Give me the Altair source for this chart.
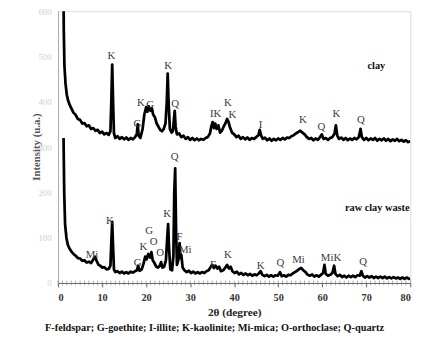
import altair as alt
import pandas as pd

# ---- clay pattern (2theta, intensity) ----
clay_2theta = [1.2, 1.3, 1.45, 1.7, 2.0, 2.3, 2.7, 3.0, 3.5, 4.0, 4.5, 5.0, 5.5, 6.0, 6.5, 7.0, 7.5, 8.0, 8.5, 9.0,
               9.5, 10.0, 10.5, 11.0, 11.5, 11.9, 12.1, 12.3, 12.5, 12.7, 13.0, 13.5, 14.0, 14.5, 15.0, 15.5, 16.0,
               16.5, 17.0, 17.5, 17.9, 18.1, 18.3, 18.7, 19.2, 19.6, 20.0, 20.3, 20.6, 21.0, 21.3, 21.6, 22.0, 22.4,
               22.8, 23.2, 23.6, 24.0, 24.4, 24.7, 24.9, 25.1, 25.4, 25.8, 26.1, 26.3, 26.5, 26.7, 27.0, 27.5, 28.0,
               28.5, 29.0, 29.5, 30.0, 30.5, 31.0, 31.5, 32.0, 32.5, 33.0, 33.5, 34.0, 34.5, 34.8, 35.1, 35.4, 35.7,
               36.0, 36.4, 36.8, 37.2, 37.6, 38.0, 38.4, 38.7, 39.0, 39.5, 40.0, 40.5, 41.0, 41.5, 42.0, 42.5, 43.0,
               43.5, 44.0, 44.5, 45.0, 45.5, 45.8, 46.1, 46.5, 47.0, 47.5, 48.0, 48.5, 49.0, 49.5, 50.0, 50.5, 51.0,
               51.5, 52.0, 52.5, 53.0, 53.5, 54.0, 54.5, 55.0, 55.5, 56.0, 56.5, 57.0, 57.5, 58.0, 58.5, 59.0, 59.5,
               59.9, 60.3, 60.8, 61.3, 61.8, 62.3, 62.8, 63.1, 63.4, 63.8, 64.3, 64.8, 65.3, 65.8, 66.3, 66.8, 67.3,
               67.8, 68.3, 68.7, 69.0, 69.5, 70.0, 70.5, 71.0, 71.5, 72.0, 72.5, 73.0, 73.5, 74.0, 74.5, 75.0, 75.5,
               76.0, 76.5, 77.0, 77.5, 78.0, 78.5, 79.0, 79.5, 80.0]
clay_intensity = [700, 560, 480, 440, 415, 402, 392, 386, 376, 371, 362, 360, 352, 353, 346, 348, 340, 342, 336, 338,
                  331, 334, 328, 331, 327, 335, 400, 482, 400, 330, 320, 324, 318, 322, 317, 321, 316,
                  320, 317, 322, 330, 350, 325, 320, 340, 372, 388, 378, 390, 380, 386, 372, 366, 352,
                  345, 338, 335, 340, 352, 400, 462, 400, 340, 332, 336, 360, 380, 345, 328, 330, 322,
                  325, 318, 322, 316, 320, 315, 319, 315, 318, 316, 320, 322, 330, 345, 355, 342, 352,
                  340, 348, 332, 336, 345, 352, 362, 356, 345, 332, 328, 322, 325, 318, 322, 317, 321,
                  316, 320, 318, 322, 326, 338, 326, 318, 321, 315, 319, 314, 318, 315, 319, 316, 320,
                  317, 321, 320, 324, 326, 330, 333, 336, 332, 328, 322, 318, 320, 315, 319, 316, 322,
                  328, 318, 320, 316, 320, 322, 330, 348, 326, 318, 321, 316, 320, 315, 319, 316, 320,
                  317, 322, 340, 322, 316, 320, 315, 319, 316, 320, 314, 318, 315, 319, 314, 318, 313,
                  317, 314, 318, 313, 316, 312, 315, 311, 313]

# ---- raw clay waste pattern ----
raw_2theta = [1.25, 1.4, 1.6, 1.9, 2.2, 2.6, 3.0, 3.5, 4.0, 4.5, 5.0, 5.5, 6.0, 6.5, 7.0, 7.5, 8.0, 8.4, 8.8, 9.2,
              9.6, 10.0, 10.5, 11.0, 11.5, 11.9, 12.1, 12.3, 12.5, 12.7, 13.0, 13.5, 14.0, 14.5, 15.0, 15.5, 16.0,
              16.5, 17.0, 17.5, 17.9, 18.2, 18.5, 19.0, 19.4, 19.8, 20.1, 20.5, 20.9, 21.2, 21.5, 21.9, 22.3, 22.7,
              23.1, 23.4, 23.7, 24.1, 24.5, 24.8, 25.0, 25.2, 25.5, 25.9, 26.2, 26.4, 26.6, 26.8, 27.0, 27.3, 27.6,
              27.8, 28.0, 28.3, 28.7, 29.2, 29.7, 30.2, 30.7, 31.2, 31.7, 32.2, 32.7, 33.2, 33.7, 34.2, 34.6, 35.0,
              35.4, 35.8, 36.2, 36.6, 37.0, 37.5, 38.0, 38.4, 38.8, 39.2, 39.6, 40.1, 40.6, 41.1, 41.6, 42.1, 42.6,
              43.1, 43.6, 44.1, 44.6, 45.1, 45.6, 46.0, 46.4, 46.9, 47.4, 47.9, 48.4, 48.9, 49.4, 49.9, 50.4, 50.8,
              51.3, 51.8, 52.3, 52.8, 53.3, 53.8, 54.3, 54.8, 55.2, 55.7, 56.2, 56.7, 57.2, 57.7, 58.2, 58.7, 59.2,
              59.7, 60.2, 60.5, 60.8, 61.3, 61.8, 62.3, 62.7, 63.0, 63.5, 64.0, 64.5, 65.0, 65.5, 66.0, 66.5, 67.0,
              67.5, 68.0, 68.5, 68.9, 69.2, 69.7, 70.2, 70.7, 71.2, 71.7, 72.2, 72.7, 73.2, 73.7, 74.2, 74.7, 75.2,
              75.7, 76.2, 76.7, 77.2, 77.7, 78.2, 78.7, 79.2, 79.7, 80.0]
raw_intensity = [320, 200, 130, 100, 85, 76, 70, 64, 60, 55, 54, 49, 50, 45, 47, 44, 52, 58, 48, 40,
                 38, 34, 35, 30, 31, 38, 90, 135, 80, 30, 24, 26, 22, 25, 21, 24, 21,
                 25, 23, 26, 28, 38, 27, 30, 42, 58, 52, 64, 56, 68, 50, 44, 36, 34,
                 38, 46, 34, 36, 50, 100, 130, 80, 30, 28, 60, 200, 253, 120, 40, 50, 88,
                 55, 62, 34, 28, 24, 27, 22, 25, 21, 24, 21, 24, 22, 26, 28, 34, 40,
                 33, 38, 32, 36, 26, 28, 34, 40, 32, 36, 26, 22, 25, 19, 22, 18, 21,
                 17, 20, 16, 19, 17, 21, 26, 18, 15, 18, 14, 17, 14, 17, 16, 24, 15,
                 17, 14, 18, 17, 21, 24, 27, 31, 33, 28, 24, 18, 16, 19, 14, 17, 14,
                 18, 22, 40, 20, 16, 18, 22, 38, 20, 15, 18, 13, 16, 12, 16, 13, 16,
                 13, 17, 16, 26, 16, 12, 15, 12, 15, 11, 14, 11, 14, 11, 14, 10, 13,
                 10, 13, 10, 12, 9, 12, 9, 12, 9, 10]

# ---- phase labels ----
clay_labels = ["K", "G", "K", "G", "K", "Q", "IK", "K", "K", "I", "K", "Q", "K", "Q"]
clay_label_x = [12.1, 18.0, 18.8, 20.9, 25.0, 26.6, 35.8, 38.6, 39.6, 46.0, 55.6, 59.8, 63.2, 68.8]
clay_label_y = [502, 350, 398, 392, 478, 394, 373, 398, 371, 348, 360, 345, 373, 360]

raw_labels = ["Mi", "K", "G", "K", "G", "O", "O", "K", "Q", "F", "Mi", "F", "K", "K", "Q", "Mi", "MiK", "Q"]
raw_label_x = [7.7, 11.8, 18.1, 19.4, 20.7, 21.7, 23.2, 24.8, 26.5, 27.6, 28.9, 35.2, 38.6, 46.0, 50.5, 54.6, 62.0, 69.3]
raw_label_y = [61, 137, 45, 79, 114, 90, 65, 152, 278, 101, 72, 40, 61, 38, 43, 50, 54, 47]

sample_names = ["clay", "raw clay waste"]
sample_x = [72.3, 72.5]
sample_y = [479, 166]

x_major = [0, 10, 20, 30, 40, 50, 60, 70, 80]
x_minor = list(range(0, 81))
y_ticks = [0, 100, 200, 300, 400, 500, 600]
caption = "F-feldspar; G-goethite; I-illite; K-kaolinite; Mi-mica; O-orthoclase; Q-quartz"

SERIF = "Liberation Serif"

lines_df = pd.concat([
    pd.DataFrame({"theta": clay_2theta, "intensity": clay_intensity, "sample": "clay"}),
    pd.DataFrame({"theta": raw_2theta, "intensity": raw_intensity, "sample": "raw"}),
])
labels_df = pd.concat([
    pd.DataFrame({"theta": clay_label_x, "intensity": clay_label_y, "label": clay_labels}),
    pd.DataFrame({"theta": raw_label_x, "intensity": raw_label_y, "label": raw_labels}),
])
names_df = pd.DataFrame({"theta": sample_x, "intensity": sample_y, "label": sample_names})
minor_df = pd.DataFrame({"theta": x_minor})

x_scale = alt.Scale(domain=[0, 80], nice=False, zero=False)
y_scale = alt.Scale(domain=[0, 600], nice=False)

x_axis = alt.Axis(
    values=x_major, grid=False, title="2θ (degree)", labelOverlap=False,
    tickSize=4, tickColor="#666", tickWidth=1, domainColor="#666", domainWidth=1,
    labelFont=SERIF, labelFontWeight="bold", labelFontSize=10.5, labelColor="#333", labelPadding=6,
    titleFont=SERIF, titleFontWeight="bold", titleFontSize=11.5, titleColor="#222", titlePadding=4,
)
y_axis = alt.Axis(
    values=y_ticks, grid=False, ticks=False, title="Intensity (u.a.)",
    domainColor="#aaa", domainWidth=1,
    labelFont=SERIF, labelFontSize=9, labelColor="#cfcfcf", labelPadding=7,
    titleFont=SERIF, titleFontWeight="bold", titleFontSize=11, titleColor="#555",
    titleX=-22, titleY=138, titleBaseline="middle", titleAlign="center",
)

lines = alt.Chart(lines_df).mark_line(color="black", strokeWidth=2.8, clip=True, strokeJoin="round").encode(
    x=alt.X("theta:Q", scale=x_scale, axis=x_axis),
    y=alt.Y("intensity:Q", scale=y_scale, axis=y_axis),
    detail="sample:N",
)

minor_ticks = alt.Chart(minor_df).mark_tick(color="#777", thickness=0.8, size=5, orient="vertical").encode(
    x=alt.X("theta:Q", scale=x_scale),
    y=alt.value(277),
)

peak_text = alt.Chart(labels_df).mark_text(font=SERIF, fontSize=11, color="#3a3a3a",
                                           align="center", baseline="middle").encode(
    x=alt.X("theta:Q", scale=x_scale),
    y=alt.Y("intensity:Q", scale=y_scale),
    text="label:N",
)

name_text = alt.Chart(names_df).mark_text(font=SERIF, fontSize=10.5, fontWeight="bold", color="#111",
                                          align="center", baseline="middle").encode(
    x=alt.X("theta:Q", scale=x_scale),
    y=alt.Y("intensity:Q", scale=y_scale),
    text="label:N",
)

chart = alt.layer(lines, minor_ticks, peak_text, name_text).properties(
    width=359, height=277,
    autosize=alt.AutoSizeParams(type="none"),
    padding={"left": 51, "top": 0, "right": 16, "bottom": 61},
    title=alt.Title(caption, orient="bottom", anchor="middle", font=SERIF, fontSize=10.5,
                    fontWeight="bold", color="#111", offset=5, dx=-20),
).configure_view(stroke=None).configure(background="white")

chart.save("out.html", embed_options={"renderer": "svg", "actions": False})
